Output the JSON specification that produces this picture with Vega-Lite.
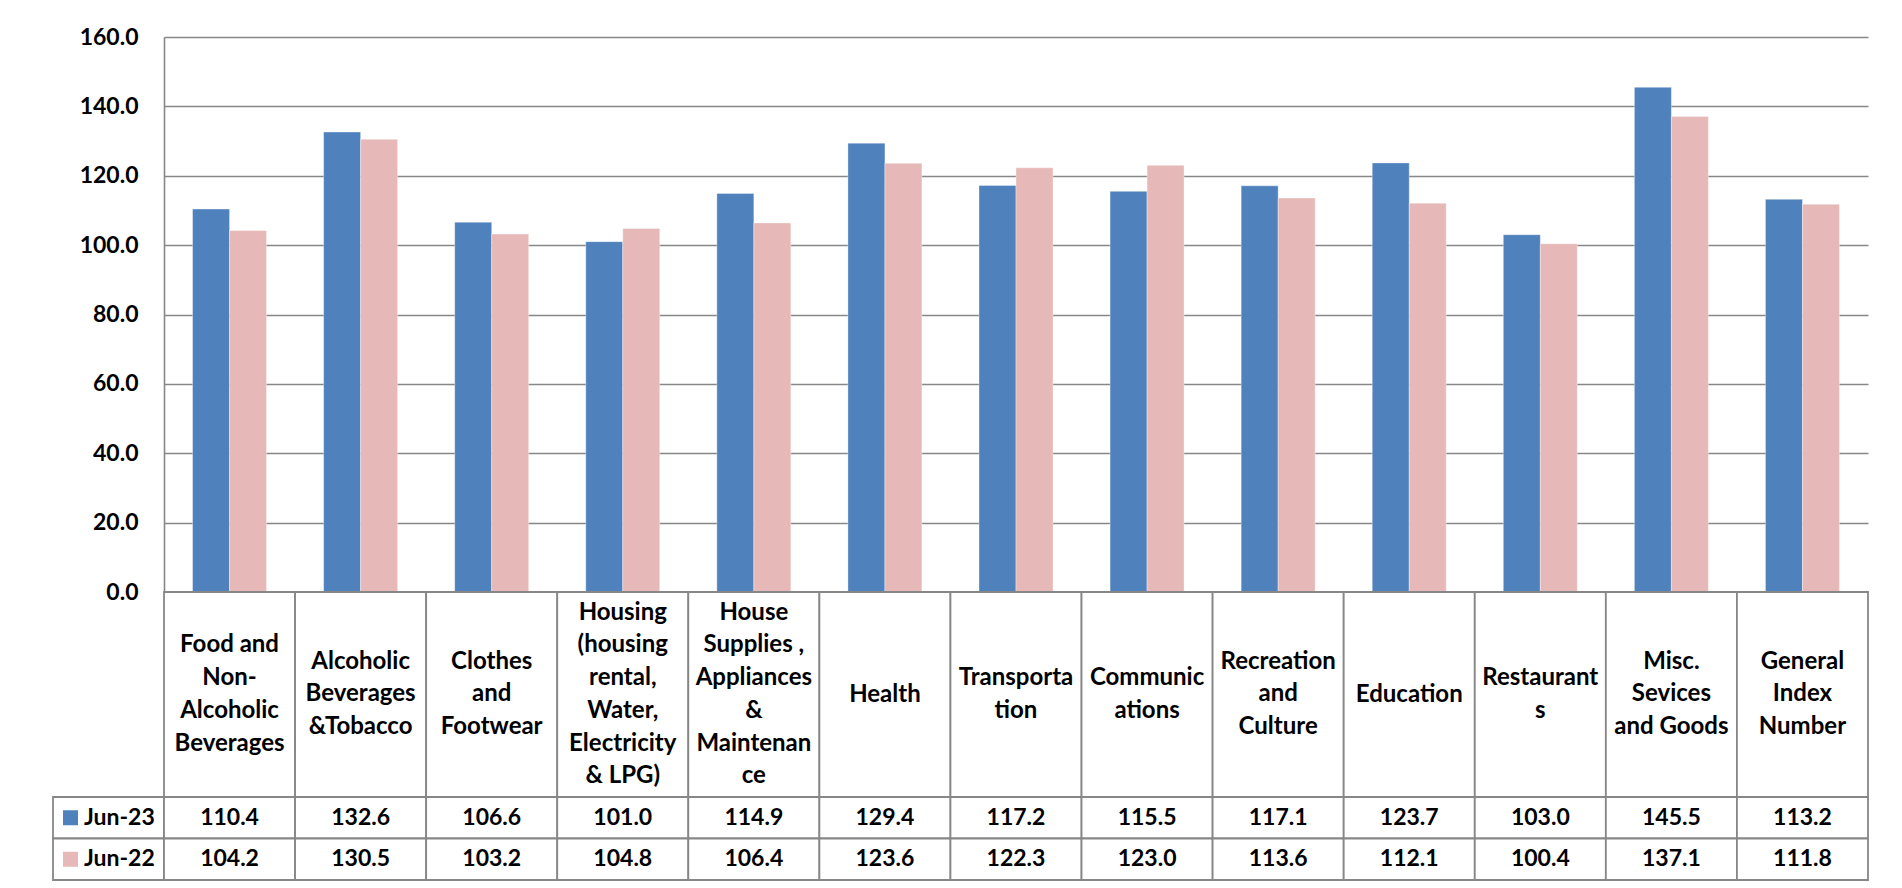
{
  "$schema": "https://vega.github.io/schema/vega-lite/v6.json",
  "padding": {"left": 52, "top": 26, "right": 5, "bottom": 5},
  "background": "white",
  "config": {
    "view": {"stroke": null},
    "font": "Lato",
    "axis": {"labelFont": "Lato", "labelFontWeight": "bold", "labelFontSize": 23, "labelColor": "#000000"}
  },
  "datasets": {
    "main": [
      {"category": "Food and Non-Alcoholic Beverages", "label": ["Food and", "Non-", "Alcoholic", "Beverages"], "series": "Jun-23", "value": 110.4},
      {"category": "Food and Non-Alcoholic Beverages", "label": ["Food and", "Non-", "Alcoholic", "Beverages"], "series": "Jun-22", "value": 104.2},
      {"category": "Alcoholic Beverages &Tobacco", "label": ["Alcoholic", "Beverages", "&Tobacco"], "series": "Jun-23", "value": 132.6},
      {"category": "Alcoholic Beverages &Tobacco", "label": ["Alcoholic", "Beverages", "&Tobacco"], "series": "Jun-22", "value": 130.5},
      {"category": "Clothes and Footwear", "label": ["Clothes", "and", "Footwear"], "series": "Jun-23", "value": 106.6},
      {"category": "Clothes and Footwear", "label": ["Clothes", "and", "Footwear"], "series": "Jun-22", "value": 103.2},
      {"category": "Housing (housing rental, Water, Electricity & LPG)", "label": ["Housing", "(housing", "rental,", "Water,", "Electricity", "& LPG)"], "series": "Jun-23", "value": 101.0},
      {"category": "Housing (housing rental, Water, Electricity & LPG)", "label": ["Housing", "(housing", "rental,", "Water,", "Electricity", "& LPG)"], "series": "Jun-22", "value": 104.8},
      {"category": "House Supplies , Appliances & Maintenance", "label": ["House", "Supplies ,", "Appliances", "&", "Maintenan", "ce"], "series": "Jun-23", "value": 114.9},
      {"category": "House Supplies , Appliances & Maintenance", "label": ["House", "Supplies ,", "Appliances", "&", "Maintenan", "ce"], "series": "Jun-22", "value": 106.4},
      {"category": "Health", "label": ["Health"], "series": "Jun-23", "value": 129.4},
      {"category": "Health", "label": ["Health"], "series": "Jun-22", "value": 123.6},
      {"category": "Transportation", "label": ["Transporta", "tion"], "series": "Jun-23", "value": 117.2},
      {"category": "Transportation", "label": ["Transporta", "tion"], "series": "Jun-22", "value": 122.3},
      {"category": "Communications", "label": ["Communic", "ations"], "series": "Jun-23", "value": 115.5},
      {"category": "Communications", "label": ["Communic", "ations"], "series": "Jun-22", "value": 123.0},
      {"category": "Recreation and Culture", "label": ["Recreation", "and", "Culture"], "series": "Jun-23", "value": 117.1},
      {"category": "Recreation and Culture", "label": ["Recreation", "and", "Culture"], "series": "Jun-22", "value": 113.6},
      {"category": "Education", "label": ["Education"], "series": "Jun-23", "value": 123.7},
      {"category": "Education", "label": ["Education"], "series": "Jun-22", "value": 112.1},
      {"category": "Restaurants", "label": ["Restaurant", "s"], "series": "Jun-23", "value": 103.0},
      {"category": "Restaurants", "label": ["Restaurant", "s"], "series": "Jun-22", "value": 100.4},
      {"category": "Misc. Sevices and Goods", "label": ["Misc.", "Sevices", "and Goods"], "series": "Jun-23", "value": 145.5},
      {"category": "Misc. Sevices and Goods", "label": ["Misc.", "Sevices", "and Goods"], "series": "Jun-22", "value": 137.1},
      {"category": "General Index Number", "label": ["General", "Index", "Number"], "series": "Jun-23", "value": 113.2},
      {"category": "General Index Number", "label": ["General", "Index", "Number"], "series": "Jun-22", "value": 111.8}
    ]
  },
  "columns": 2,
  "spacing": 0,
  "bounds": "flush",
  "align": "each",
  "concat": [
    {
      "width": 111, "height": 555,
      "data": {"values": [{"t": ""}]},
      "mark": {"type": "text"},
      "encoding": {"text": {"field": "t"}}
    },
    {
      "width": 1704, "height": 555,
      "data": {"name": "main"},
      "mark": {"type": "bar", "stroke": "#ffffff", "strokeWidth": 0.6, "strokeOpacity": 0.6},
      "encoding": {
        "x": {"field": "category", "type": "nominal", "sort": null,
              "scale": {"paddingInner": 0.4355, "paddingOuter": 0.2178}, "axis": null},
        "xOffset": {"field": "series", "type": "nominal", "sort": ["Jun-23", "Jun-22"]},
        "y": {"field": "value", "type": "quantitative",
              "scale": {"domain": [0, 160], "nice": false},
              "axis": {"values": [0, 20, 40, 60, 80, 100, 120, 140, 160], "format": ".1f", "title": null,
                       "ticks": false, "labelPadding": 26, "grid": true, "gridColor": "#878787", "gridWidth": 1.6,
                       "domainColor": "#878787", "domainWidth": 1.6}},
        "color": {"field": "series", "type": "nominal",
                  "scale": {"domain": ["Jun-23", "Jun-22"], "range": ["#4F81BD", "#E6B9B8"]}, "legend": null}
      }
    },
    {
      "width": 111, "height": 205,
      "data": {"values": [{"t": ""}]},
      "mark": {"type": "text"},
      "encoding": {"text": {"field": "t"}}
    },
    {
      "width": 1704, "height": 205,
      "data": {"name": "main"},
      "transform": [
        {"filter": "datum.series === 'Jun-23'"},
        {"calculate": "length(datum.label)", "as": "lines"}
      ],
      "encoding": {
        "x": {"field": "category", "type": "nominal", "sort": null,
              "scale": {"paddingInner": 0, "paddingOuter": 0}, "axis": null}
      },
      "layer": [
        {"mark": {"type": "rect", "fill": "white", "stroke": "#878787", "strokeWidth": 1.8}},
        {"mark": {"type": "text", "font": "Lato", "fontWeight": "bold", "fontSize": 24, "lineHeight": 32.7, "baseline": "middle", "align": "center", "color": "#000000"},
         "encoding": {
           "text": {"field": "label"},
           "y": {"field": "lines", "type": "quantitative", "scale": {"domain": [1, 6], "range": [102.5, 20.75], "zero": false, "nice": false}, "axis": null}
         }}
      ]
    },
    {
      "width": 111, "height": 83,
      "data": {"name": "main"},
      "transform": [{"filter": "datum.category === 'Health'"}],
      "encoding": {
        "y": {"field": "series", "type": "nominal", "sort": ["Jun-23", "Jun-22"],
              "scale": {"paddingInner": 0, "paddingOuter": 0}, "axis": null}
      },
      "layer": [
        {"mark": {"type": "rect", "fill": "white", "stroke": "#878787", "strokeWidth": 1.8}},
        {"mark": {"type": "point", "shape": "square", "size": 225, "filled": true, "opacity": 1, "xOffset": -38},
         "encoding": {"color": {"field": "series", "type": "nominal",
                  "scale": {"domain": ["Jun-23", "Jun-22"], "range": ["#4F81BD", "#E6B9B8"]}, "legend": null}}},
        {"mark": {"type": "text", "font": "Lato", "fontWeight": "bold", "fontSize": 23, "align": "left", "baseline": "middle", "dx": -24.5, "color": "#000000"},
         "encoding": {"text": {"field": "series"}}}
      ]
    },
    {
      "width": 1704, "height": 83,
      "data": {"name": "main"},
      "encoding": {
        "x": {"field": "category", "type": "nominal", "sort": null,
              "scale": {"paddingInner": 0, "paddingOuter": 0}, "axis": null},
        "y": {"field": "series", "type": "nominal", "sort": ["Jun-23", "Jun-22"],
              "scale": {"paddingInner": 0, "paddingOuter": 0}, "axis": null}
      },
      "layer": [
        {"mark": {"type": "rect", "fill": "white", "stroke": "#878787", "strokeWidth": 1.8}},
        {"mark": {"type": "text", "font": "Lato", "fontWeight": "bold", "fontSize": 23, "baseline": "middle", "align": "center", "color": "#000000"},
         "encoding": {"text": {"field": "value", "type": "quantitative", "format": ".1f"}}}
      ]
    }
  ]
}
